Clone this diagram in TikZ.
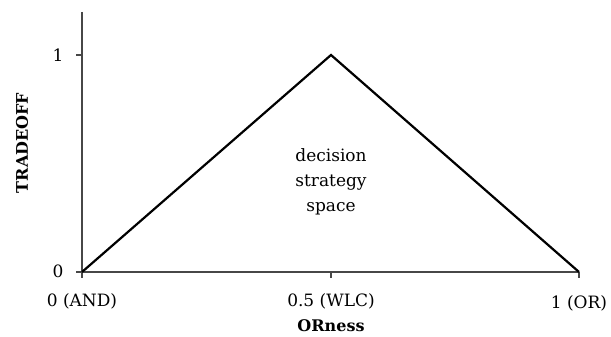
\documentclass[tikz,border=0pt]{standalone}
\usepackage{fontspec}
\setmainfont{DejaVu Serif}
\usetikzlibrary{positioning}
\begin{document}
\begin{tikzpicture}[x=1pt, y=1pt,
  axis/.style={line width=1.8pt, draw=black!72},
  edge/.style={line width=2.2pt, line join=miter},
  ticklbl/.style={font=\fontsize{17}{20}\selectfont, inner sep=0pt},
  axlbl/.style={font=\fontsize{16}{20}\selectfont\bfseries, inner sep=0pt},
]
\useasboundingbox (0,0) rectangle (611,337);
% Axes
\coordinate (o)    at (82,65);
\coordinate (ytop) at (82,325);
\coordinate (xend) at (579,65);
\coordinate (yone) at (82,282);
\coordinate (xmid) at (331,65);
\coordinate (peak) at (331,282);
\draw[axis] (ytop) -- (o) -- (xend);
\draw[axis] (yone) -- ++(-6,0);
\draw[axis] (o) ++(-6,0) -- (o) -- ++(0,-6);
\draw[axis] (xmid) -- ++(0,-6);
\draw[axis] (xend) -- ++(0,-6);

% Triangle
\draw[edge] (o) -- (peak) -- (xend);

% Tick labels
\node[ticklbl] (y0) at (58,66) {0};
\node[ticklbl] (y1) at (58,282) {1};
\node[ticklbl] (x0) at (82,36) {0 (AND)};
\node[ticklbl] (x5) at (331,36) {0.5 (WLC)};
\node[ticklbl] (x1) at (579,34) {1 (OR)};

% Axis labels
\node[axlbl] (xlbl) at (331,11) {ORness};
\node[axlbl, rotate=90] (ylbl) at (22,194) {TRADEOFF};

% Region label
\node[ticklbl, align=center, font=\fontsize{17}{25}\selectfont] (space) at (331,155) {decision\\strategy\\space};
\end{tikzpicture}
\end{document}
